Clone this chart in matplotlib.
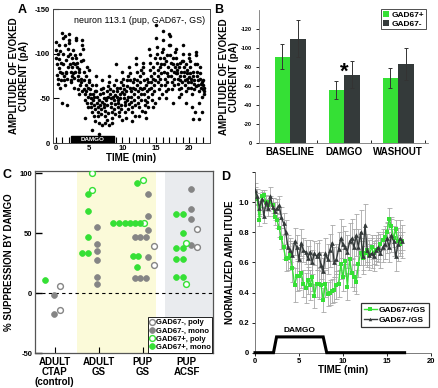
import numpy as np
import matplotlib
matplotlib.use("Agg")
import matplotlib.pyplot as plt
from matplotlib.patches import Rectangle
from matplotlib.lines import Line2D

plt.rcParams['font.family'] = ['Liberation Sans', 'DejaVu Sans']
plt.rcParams['axes.unicode_minus'] = False

GREEN = "#35e035"
DARK = "#343a3a"
GRAY = "#858585"

# ---------------- data: panel A (one neuron, evoked amplitude, pA) ----------------
# 18 samples per minute, last minute partial
amp_a = [
    -113, -95, -104, -88, -76, -72, -100, -66, -94, -84, -110, -62, -80, -103, -70, -90, -45, -78,
    -123, -118, -100, -88, -75, -70, -65, -120, -110, -93, -80, -78, -72, -42, -97, -105, -85, -115,
    -122, -112, -100, -88, -80, -70, -68, -95, -85, -75, -78, -104, -90, -62, -73, -80, -98, -88,
    -118, -115, -95, -90, -85, -75, -70, -60, -55, -80, -83, -65, -100, -92, -72, -68, -58, -110,
    -115, -105, -93, -80, -70, -60, -55, -48, -28, -75, -65, -58, -45, -85, -52, -62, -40, -68,
    -82, -70, -60, -55, -50, -45, -40, -35, -15, -65, -55, -48, -30, -52, -42, -38, -58, -25,
    -75, -65, -58, -52, -45, -40, -35, -30, -22, -10, -48, -42, -55, -38, -60, -32, -20, -46,
    -70, -62, -56, -50, -44, -40, -36, -30, -22, -50, -48, -58, -26, -42, -34, -64, -52, -20,
    -75, -68, -60, -55, -50, -45, -40, -35, -28, -22, -52, -58, -48, -65, -38, -44, -54, -32,
    -88, -70, -62, -58, -52, -48, -45, -40, -35, -30, -55, -62, -50, -42, -68, -38, -57, -26,
    -80, -72, -65, -60, -55, -50, -46, -42, -35, -28, -58, -64, -70, -48, -38, -52, -75, -44,
    -85, -78, -70, -62, -58, -52, -46, -40, -35, -25, -62, -68, -55, -48, -72, -42, -60, -30,
    -95, -88, -80, -70, -65, -58, -52, -45, -40, -30, -68, -75, -62, -55, -48, -82, -36, -60,
    -90, -85, -78, -70, -62, -55, -48, -42, -35, -28, -65, -72, -58, -46, -68, -52, -40, -60,
    -105, -98, -90, -82, -75, -68, -62, -55, -48, -40, -72, -85, -65, -58, -78, -70, -45, -95,
    -132, -118, -108, -100, -90, -82, -75, -68, -60, -50, -95, -85, -72, -78, -65, -88, -55, -102,
    -125, -115, -105, -95, -88, -80, -72, -65, -58, -50, -92, -98, -78, -68, -85, -60, -75, -110,
    -122, -120, -110, -98, -90, -82, -75, -68, -60, -45, -88, -95, -80, -72, -65, -85, -102, -78,
    -105, -95, -88, -82, -78, -72, -66, -60, -52, -85, -90, -75, -70, -80, -62, -55, -92, -68,
    -110, -100, -92, -85, -80, -75, -70, -65, -58, -45, -88, -78, -72, -82, -68, -62, -95, -74,
    -100, -92, -85, -78, -72, -68, -62, -55, -40, -27, -75, -80, -66, -70, -60, -88, -35, -64,
    -102, -98, -88, -80, -75, -70, -65, -58, -45, -27, -72, -78, -85, -66, -62, -35, -52, -68,
    -70, -65, -60, -55, -62, -58,
]
samples_per_min = 18
damgo_a = (2.3, 8.8)

# ---------------- data: panel B ----------------
conditions = ["BASELINE", "DAMGO", "WASHOUT"]
gad_pos_mean = [-91, -56, -68]
gad_pos_err = [13, 9.5, 10.5]
gad_neg_mean = [-110, -72, -83]
gad_neg_err = [19, 14, 16.5]

# ---------------- data: panel C ----------------
groups_c = ["ADULT\nCTAP\n(control)", "ADULT\nGS", "PUP\nGS", "PUP\nACSF"]
neg_poly_x = [1.12, 1.12, 3.26, 3.26, 4.24, 4.24]
neg_poly_y = [6.4, -14, 39.4, 23.6, 53.3, 38.3]
neg_mono_x = [0.98, 0.98, 1.97, 1.97, 1.97, 1.97, 1.97, 1.97, 3.11, 3.11, 3.11,
              2.83, 2.95, 3.07, 3.11, 2.83, 2.95, 3.07, 4.11, 4.11, 4.11, 4.11]
neg_mono_y = [-1.7, -17, 55.5, 40.8, 35.3, 27.8, 13.9, 8, 82.8, 64.7, 52.8,
              46.7, 46.7, 46.7, 30, 12.5, 12.5, 12.5, 87, 70.3, 61.7, 40]
pos_poly_x = [1.85, 1.85, 3.02, 3.0, 3.98, 3.98]
pos_poly_y = [100, 86, 58.3, 94.4, 42.2, 7.7]
pos_mono_x = [0.77, 1.76, 1.76, 1.76, 1.62, 1.76,
              2.33, 2.46, 2.59, 2.71, 2.83, 2.94, 2.88, 2.77, 2.89, 2.88,
              3.76, 3.91, 3.91, 3.76, 3.91, 3.76, 3.91, 3.76, 3.91]
pos_mono_y = [11, 82.5, 69, 46.7, 33.3, 33.3,
              58.3, 58.3, 58.3, 58.3, 58.3, 58.3, 92, 31, 31, 22,
              65.8, 65.8, 50.5, 37.5, 37.5, 29, 29, 13.3, 13.3]

# ---------------- data: panel D (normalized amplitude, every 0.25 min) ----------------
norm_pos = [1.06, 1.02, 0.88, 1.04, 1.05, 1.00, 0.98, 1.00, 0.98, 0.90, 0.88, 0.83,
            0.76, 0.70, 0.62, 0.63, 0.65, 0.56, 0.45, 0.51, 0.51, 0.53, 0.46, 0.43,
            0.48, 0.45, 0.50, 0.38, 0.46, 0.46, 0.45, 0.35, 0.46, 0.39, 0.40, 0.41,
            0.42, 0.45, 0.46, 0.59, 0.50, 0.61, 0.44, 0.62, 0.53, 0.50, 0.47, 0.59,
            0.66, 0.63, 0.66, 0.68, 0.65, 0.70, 0.66, 0.68, 0.69, 0.72, 0.75, 0.77,
            0.80, 0.89, 0.84, 0.76, 0.82, 0.74, 0.72, 0.74]
err_pos = [0.04, 0.04, 0.04, 0.04, 0.03, 0.04, 0.04, 0.04, 0.05, 0.05, 0.05, 0.06,
           0.07, 0.08, 0.08, 0.08, 0.09, 0.09, 0.11, 0.10, 0.09, 0.10, 0.09, 0.10,
           0.09, 0.10, 0.09, 0.08, 0.09, 0.10, 0.09, 0.08, 0.09, 0.08, 0.08, 0.08,
           0.08, 0.09, 0.09, 0.10, 0.09, 0.10, 0.09, 0.10, 0.09, 0.09, 0.08, 0.09,
           0.08, 0.08, 0.08, 0.08, 0.07, 0.08, 0.07, 0.07, 0.07, 0.07, 0.07, 0.07,
           0.07, 0.07, 0.06, 0.06, 0.06, 0.06, 0.06, 0.06]
norm_neg = [1.08, 1.04, 0.96, 1.02, 0.91, 1.00, 0.96, 1.04, 0.97, 0.94, 0.96, 0.98,
            0.90, 0.86, 0.80, 0.70, 0.68, 0.65, 0.74, 0.70, 0.62, 0.73, 0.68, 0.67,
            0.63, 0.67, 0.60, 0.66, 0.64, 0.66, 0.58, 0.54, 0.66, 0.62, 0.68, 0.73,
            0.60, 0.62, 0.69, 0.76, 0.72, 0.70, 0.67, 0.74, 0.76, 0.70, 0.78, 0.70,
            0.80, 0.64, 0.85, 0.68, 0.65, 0.66, 0.64, 0.68, 0.70, 0.66, 0.70, 0.72,
            0.76, 0.70, 0.78, 0.74, 0.64, 0.72, 0.76, 0.74]
err_neg = [0.05, 0.05, 0.05, 0.05, 0.05, 0.05, 0.05, 0.06, 0.06, 0.06, 0.06, 0.06,
           0.07, 0.07, 0.08, 0.08, 0.08, 0.08, 0.09, 0.08, 0.08, 0.09, 0.08, 0.08,
           0.08, 0.08, 0.08, 0.08, 0.09, 0.09, 0.09, 0.09, 0.10, 0.10, 0.11, 0.12,
           0.10, 0.10, 0.11, 0.13, 0.12, 0.11, 0.11, 0.12, 0.13, 0.12, 0.14, 0.12,
           0.15, 0.12, 0.14, 0.11, 0.10, 0.10, 0.10, 0.10, 0.10, 0.10, 0.10, 0.10,
           0.10, 0.10, 0.11, 0.10, 0.10, 0.11, 0.12, 0.11]
sample_dt_d = 0.25
damgo_t = [0, 2.1, 2.45, 7.75, 8.15, 17.0]
damgo_lvl = [0, 0, 0.105, 0.105, 0, 0]

# ---------------- figure ----------------
fig = plt.figure(figsize=(4.38, 3.88), dpi=100)
lab_fs = 7

# panel A
axA = fig.add_axes([0.121, 0.6314, 0.3584, 0.3454])
t_a = np.arange(len(amp_a)) / samples_per_min
axA.scatter(t_a, amp_a, s=6.5, color="black", linewidths=0)
axA.set_xlim(-0.4, 23.1)
axA.set_ylim(0, -150)
axA.set_xticks([0, 5, 10, 15, 20])
axA.set_xticks(np.arange(0, 23), minor=True)
axA.set_yticks([0, -50, -100, -150])
axA.tick_params(axis="both", direction="in", labelsize=5.5, width=0.8, length=4)
axA.tick_params(axis="x", which="minor", direction="in", length=4, width=0.8)
axA.tick_params(axis="x", pad=1.5)
axA.tick_params(axis="y", pad=2)
for lab in axA.get_xticklabels() + axA.get_yticklabels():
    lab.set_fontweight("bold")
axA.add_patch(Rectangle((damgo_a[0], 0), damgo_a[1] - damgo_a[0], -8, color="black"))
axA.text(sum(damgo_a) / 2, -4, "DAMGO", color="white", fontsize=4.5, fontweight="bold",
         ha="center", va="center")
axA.text(0.97, 0.95, "neuron 113.1 (pup, GAD67-, GS)", transform=axA.transAxes,
         ha="right", va="top", fontsize=6.4)
axA.set_xlabel("TIME (min)", fontsize=lab_fs, fontweight="bold", labelpad=1)
axA.set_ylabel("AMPLITUDE OF EVOKED\nCURRENT (pA)", fontsize=lab_fs, fontweight="bold",
               labelpad=4, linespacing=1.0)
for s in axA.spines.values():
    s.set_linewidth(0.7)
    s.set_color("#444444")

# panel B
axB = fig.add_axes([0.592, 0.6314, 0.385, 0.3428])
x_b = np.arange(len(conditions))
bw = 0.287
axB.bar(x_b - bw / 2, gad_pos_mean, bw, yerr=gad_pos_err, color=GREEN, label="GAD67+",
        error_kw=dict(ecolor="#333333", elinewidth=0.7, capsize=1.5, capthick=0.7))
axB.bar(x_b + bw / 2, gad_neg_mean, bw, yerr=gad_neg_err, color=DARK, label="GAD67-",
        error_kw=dict(ecolor="#333333", elinewidth=0.7, capsize=1.5, capthick=0.7))
axB.set_xlim(-0.57, 2.55)
axB.set_ylim(0, -140)
axB.set_yticks(np.arange(0, -121, -20))
axB.set_xticks(x_b)
axB.set_xticklabels(conditions, fontsize=lab_fs, fontweight="bold")
axB.set_xticks([0.5, 1.5, 2.5], minor=True)
axB.tick_params(axis="x", which="major", length=0, pad=3)
axB.tick_params(axis="x", which="minor", direction="in", length=2.5, width=0.6)
axB.tick_params(axis="y", labelsize=4, length=2.5, width=0.6, pad=3)
for lab in axB.get_yticklabels():
    lab.set_fontweight("bold")
for side in ["top", "right"]:
    axB.spines[side].set_visible(False)
for side in ["left", "bottom"]:
    axB.spines[side].set_linewidth(0.6)
    axB.spines[side].set_color("#777777")
axB.text(1 - bw / 2 + 0.14, -75, "*", fontsize=16, fontweight="bold", ha="center", va="center")
axB.set_ylabel("AMPLITUDE OF EVOKED\nCURRENT (pA)", fontsize=lab_fs, fontweight="bold",
               labelpad=1, linespacing=1.0)
legB = axB.legend(loc="upper right", bbox_to_anchor=(1.0, 1.02),
                  prop={"weight": "bold", "size": 6}, frameon=True, fancybox=False,
                  handlelength=0.8, handleheight=0.8, handletextpad=0.3,
                  borderpad=0.2, labelspacing=0.1, borderaxespad=0.2)
legB.get_frame().set_edgecolor("black")
legB.get_frame().set_linewidth(0.6)

# panel C
axC = fig.add_axes([0.0799, 0.0894, 0.4064, 0.4698])
axC.axvspan(1.5, 3.3, color="#fbfad9", zorder=0, lw=0)
axC.axvspan(3.51, 4.6, color="#e9ebee", zorder=0, lw=0)
axC.axhline(0, color="black", ls=(0, (3, 3)), lw=0.8, zorder=1)
ms = 4.2
axC.plot(neg_poly_x, neg_poly_y, "o", ms=ms, mfc="white", mec=GRAY, mew=1.0,
         label="GAD67-, poly", zorder=3)
axC.plot(neg_mono_x, neg_mono_y, "o", ms=ms, mfc=GRAY, mec=GRAY, mew=0.5,
         label="GAD67-, mono", zorder=3)
axC.plot(pos_poly_x, pos_poly_y, "o", ms=ms, mfc="white", mec=GREEN, mew=1.0,
         label="GAD67+, poly", zorder=3)
axC.plot(pos_mono_x, pos_mono_y, "o", ms=ms, mfc=GREEN, mec=GREEN, mew=0.5,
         label="GAD67+, mono", zorder=3)
axC.set_xlim(0.55, 4.6)
axC.set_ylim(-50, 102)
axC.set_xticks(np.arange(1, len(groups_c) + 1))
axC.set_xticklabels(groups_c, fontsize=lab_fs, fontweight="bold", linespacing=1.0)
axC.set_yticks([100, 50, 0, -50])
axC.tick_params(axis="x", direction="in", length=4, width=0.8, pad=3)
axC.tick_params(axis="y", direction="in", length=5, width=1.0, labelsize=5.5, pad=2)
for lab in axC.get_yticklabels():
    lab.set_fontweight("bold")
for s in axC.spines.values():
    s.set_linewidth(0.9)
    s.set_color("#555555")
axC.set_ylabel("% SUPPRESSION BY DAMGO", fontsize=lab_fs, fontweight="bold", labelpad=4)
legC = axC.legend(loc="lower right", bbox_to_anchor=(1.0, 0.0),
                  prop={"weight": "bold", "size": 5.5}, frameon=True, fancybox=False,
                  handlelength=0.6, handletextpad=0.2, borderpad=0.2,
                  labelspacing=0.12, borderaxespad=0.1)
legC.get_frame().set_edgecolor("black")
legC.get_frame().set_linewidth(0.6)
legC.get_frame().set_alpha(1)

# panel D
axD = fig.add_axes([0.5822, 0.091, 0.4018, 0.4652])
t_d = np.arange(len(norm_pos)) * sample_dt_d
axD.errorbar(t_d, norm_neg, yerr=err_neg, fmt="none", ecolor="#a8a8a8", elinewidth=0.6,
             capsize=1.8, capthick=0.6, zorder=1)
axD.errorbar(t_d, norm_pos, yerr=err_pos, fmt="none", ecolor="#a8a8a8", elinewidth=0.6,
             capsize=1.8, capthick=0.6, zorder=1)
axD.plot(t_d, norm_pos, "-s", color=GREEN, ms=3.4, lw=1.0, mew=0, zorder=2)
axD.plot(t_d, norm_neg, "-^", color=DARK, ms=3.4, lw=1.0, mew=0, zorder=3)
axD.plot(damgo_t, damgo_lvl, color="black", lw=2.2, solid_joinstyle="miter", zorder=4,
         clip_on=False)
axD.text(5.1, 0.125, "DAMGO", fontsize=6, fontweight="bold", ha="center", va="bottom")
axD.set_xlim(0, 20)
axD.set_ylim(0, 1.2)
axD.set_xticks([0, 5, 10, 15, 20])
axD.set_yticks([0, 0.2, 0.4, 0.6, 0.8, 1.0, 1.2])
axD.set_yticklabels(["0", "0.2", "0.4", "0.6", "0.8", "1.0", ""])
axD.tick_params(axis="both", labelsize=5.5, length=2.5, width=0.6, pad=1.5)
for lab in axD.get_xticklabels() + axD.get_yticklabels():
    lab.set_fontweight("bold")
for side in ["top", "right"]:
    axD.spines[side].set_visible(False)
for side in ["left", "bottom"]:
    axD.spines[side].set_linewidth(0.6)
    axD.spines[side].set_color("#666666")
axD.set_xlabel("TIME (min)", fontsize=lab_fs, fontweight="bold", labelpad=0)
axD.set_ylabel("NORMALIZED AMPLITUDE", fontsize=lab_fs, fontweight="bold", labelpad=3)
handles_d = [Line2D([], [], color=GREEN, marker="s", ms=2.5, lw=1.0, mew=0),
             Line2D([], [], color=DARK, marker="^", ms=2.5, lw=1.0, mew=0)]
legD = axD.legend(handles_d, ["GAD67+/GS", "GAD67-/GS"], loc="upper left",
                  bbox_to_anchor=(0.6, 0.275), prop={"weight": "bold", "size": 6},
                  frameon=True, fancybox=False, handlelength=1.6, handletextpad=0.2,
                  borderpad=0.35, labelspacing=0.3, borderaxespad=0)
legD.get_frame().set_edgecolor("black")
legD.get_frame().set_linewidth(0.9)

# panel letters
for x, y, letter in [(0.04, 0.99, "A"), (0.49, 0.99, "B"), (0.005, 0.565, "C"),
                     (0.505, 0.56, "D")]:
    fig.text(x, y, letter, fontsize=9, fontweight="bold", ha="left", va="top")

fig.savefig("out.png", dpi=100)
